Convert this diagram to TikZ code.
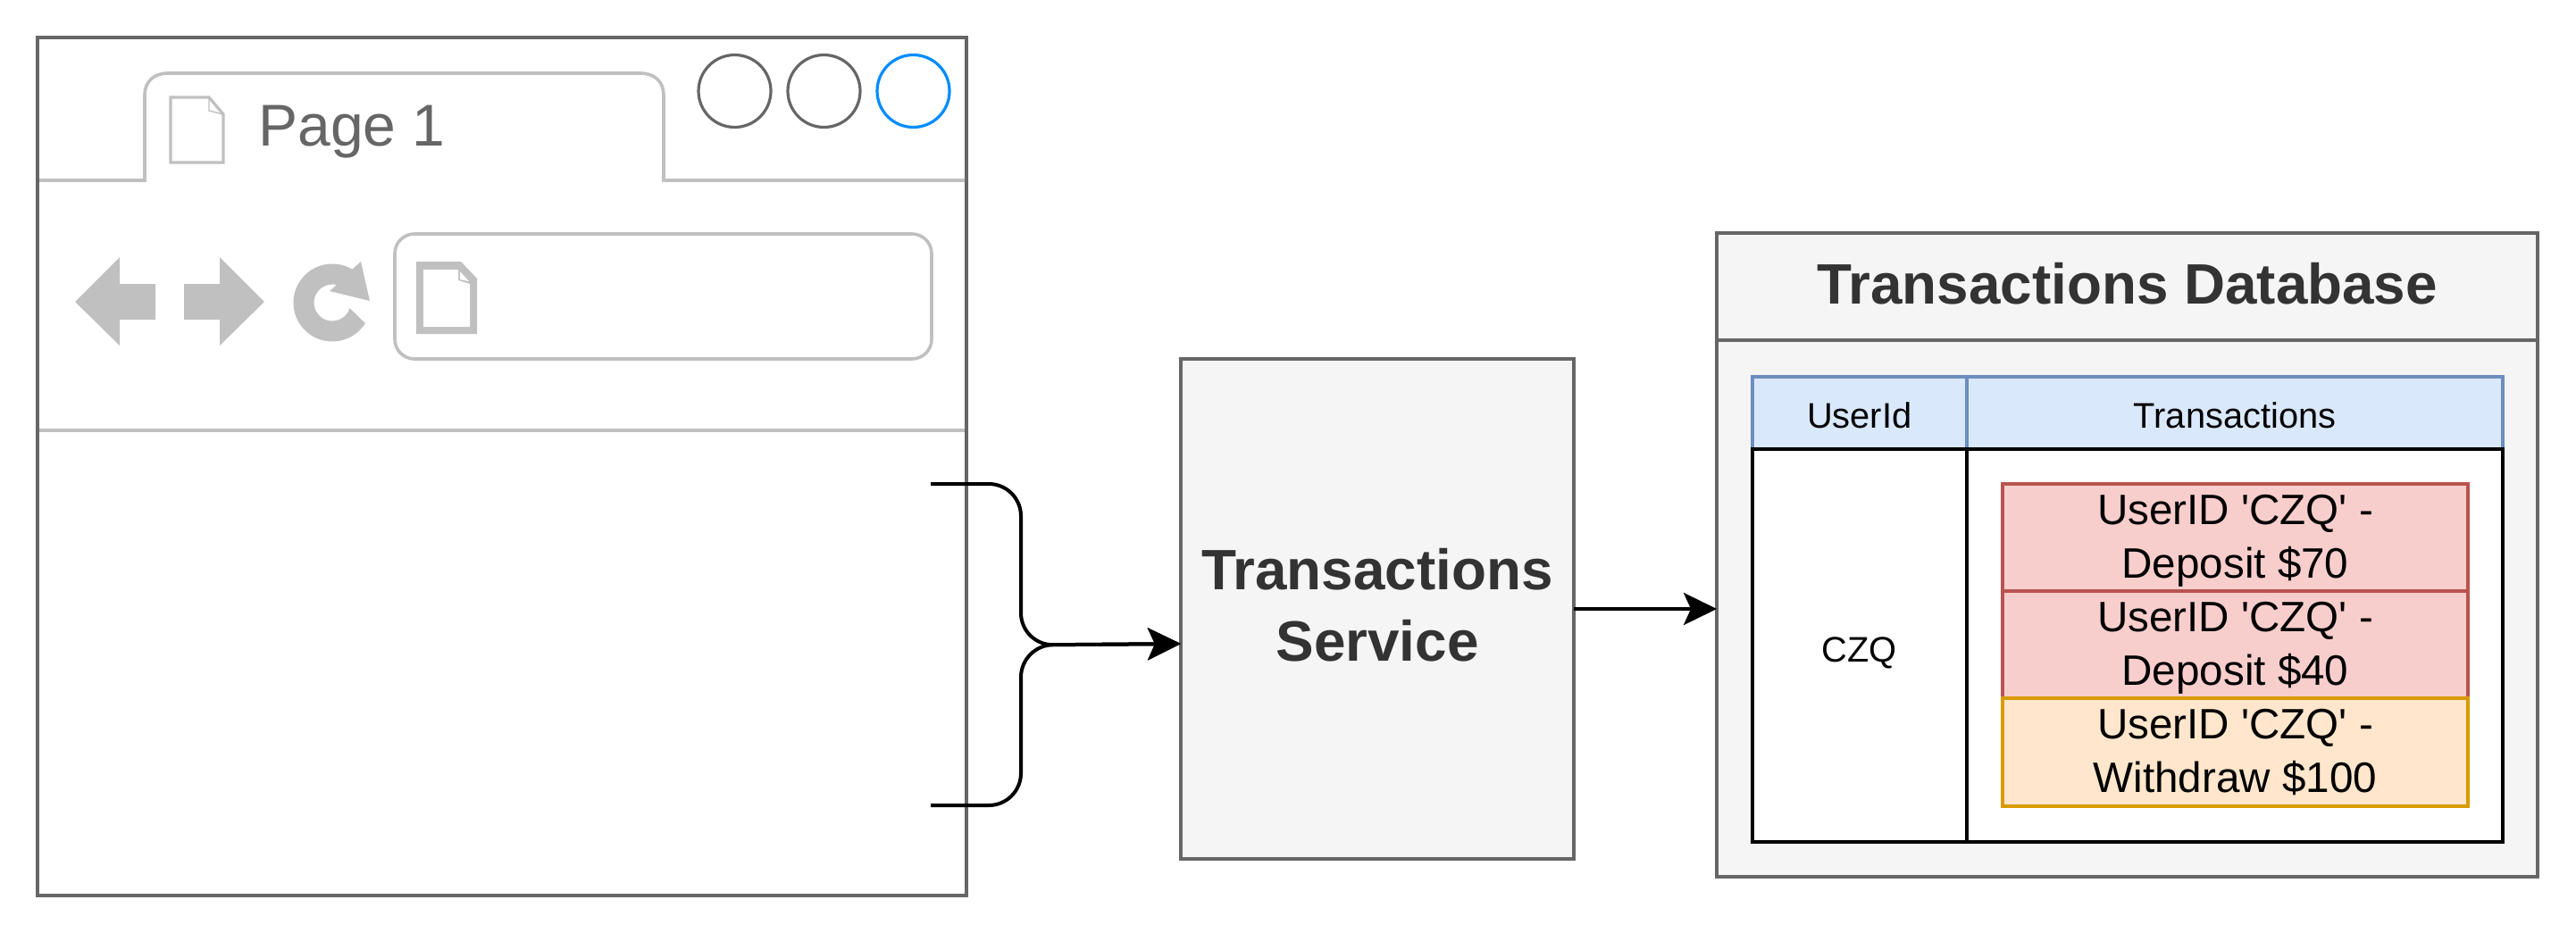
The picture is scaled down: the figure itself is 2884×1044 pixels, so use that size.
\documentclass[tikz,border=0pt]{standalone}
\usepackage{fontspec}
\setmainfont{Liberation Sans}
\usetikzlibrary{arrows.meta}
\definecolor{chrome}{HTML}{C0C0C0}
\definecolor{edge}{HTML}{666666}
\definecolor{panel}{HTML}{F5F5F5}
\definecolor{ink}{HTML}{333333}
\definecolor{winblue}{HTML}{008CFF}
\definecolor{hdrfill}{HTML}{DAE8FC}
\definecolor{hdredge}{HTML}{6C8EBF}
\definecolor{redfill}{HTML}{F8CECC}
\definecolor{rededge}{HTML}{B85450}
\definecolor{orgfill}{HTML}{FFE6CC}
\definecolor{orgedge}{HTML}{D79B00}
\newcommand\shifttext[2]{\raisebox{#1}[\height][\depth]{\begin{tabular}{@{}c@{}}#2\end{tabular}}}
\newcommand\qs{\textquotesingle}
\tikzset{
  x=0.5pt,y=-0.5pt,
  box/.style={draw,line width=2pt,outer sep=0pt,inner sep=0pt,align=center},
  panelbox/.style={box,draw=edge,fill=panel,text=ink,font=\fontsize{31.9}{40}\selectfont\bfseries},
  hdrcell/.style={box,draw=hdredge,fill=hdrfill,font=\fontsize{19.9}{24}\selectfont},
  bodycell/.style={box,draw=black,fill=white,font=\fontsize{19.9}{24}\selectfont},
  txn/.style={box,font=\fontsize{23.8}{30}\selectfont,minimum width=260.5pt,minimum height=60.5pt},
  chromeline/.style={draw=chrome,line width=1.8pt},
  dot/.style={circle,draw=edge,line width=1.6pt,minimum size=40.5pt,inner sep=0pt,outer sep=0pt,fill=white},
  conn/.style={draw=black,line width=2pt,rounded corners=18pt,-{Stealth[length=18.5pt,width=18pt,inset=4pt]}},
}
\begin{document}
\begin{tikzpicture}
\useasboundingbox (0,0) rectangle (2884,1044);
\fill[white] (0,0) rectangle (2884,1044);
% browser window
\node[box,draw=edge,fill=white,minimum width=520pt,minimum height=480.5pt] (win) at (562,522.5) {};
\draw[chromeline,line join=miter] (44,202) -- (162,202) -- (162,106) .. controls (162,92) and (172,82) .. (188,82) -- (717,82) .. controls (733,82) and (743,92) .. (743,106) -- (743,202) -- (1080,202);
\draw[chromeline] (44,482) -- (1080,482);
\node[dot] (btnA) at (822.5,102) {};
\node[dot] (btnB) at (922.5,102) {};
\node[dot,draw=winblue] (btnC) at (1022.5,102) {};
% tab page icon
\draw[draw=chrome,line width=1.6pt,fill=white,line join=miter] (191,109) -- (234,109) -- (250,128) -- (250,182) -- (191,182) -- cycle;
\draw[draw=chrome,line width=0.7pt] (234,109) -- (234,124) -- (250,128);
\node[anchor=base west,text=edge,font=\fontsize{33}{38}\selectfont,inner sep=0pt] (tabtext) at (289,163) {Page 1};
% navigation
\fill[chrome] (84,338) -- (134,288) -- (134,318) -- (174,318) -- (174,358) -- (134,358) -- (134,387) -- cycle;
\fill[chrome] (296,338) -- (246,288) -- (246,318) -- (206,318) -- (206,358) -- (246,358) -- (246,387) -- cycle;
\fill[chrome] plot[domain=32:301,samples=50,smooth] ({372+43.5*cos(\x)},{339+43.5*sin(\x)}) -- (404,293) -- (414,337) -- (369,326) -- (377,319) -- plot[domain=284:17.5,samples=40,smooth] ({372+20.5*cos(\x)},{339+20.5*sin(\x)}) -- cycle;
\draw[chromeline,rounded corners=11pt] (442,262) rectangle (1043,402);
\fill[chrome] (466,293) -- (516,293) -- (534,312) -- (534,374) -- (466,374) -- cycle;
\fill[white] (474,302) -- (513,302) -- (513,314) -- (526,318) -- (526,366) -- (474,366) -- cycle;
\fill[white] (515,304) -- (515,313) -- (525,315) -- cycle;
% service
\node[panelbox,minimum width=220pt,minimum height=280pt] (svc) at (1542,682) {\shifttext{-1.45pt}{Transactions\\Service}};
% database
\node[panelbox,minimum width=459.5pt,minimum height=60pt] (dbhead) at (2381.5,321) {\shifttext{-1.9pt}{Transactions Database}};
\node[box,draw=edge,fill=panel,minimum width=459.5pt,minimum height=300.5pt] (dbbody) at (2381.5,681.5) {};
\node[hdrcell,minimum width=120.25pt,minimum height=40.5pt] (hUser) at (2081.75,462) {\shifttext{-3.8pt}{UserId}};
\node[hdrcell,minimum width=300pt,minimum height=40.5pt] (hTxn) at (2502,462) {\shifttext{-3.8pt}{Transactions}};
\node[bodycell,minimum width=120.25pt,minimum height=220pt] (cUser) at (2081.75,722.5) {\shifttext{-4.8pt}{CZQ}};
\node[bodycell,minimum width=300pt,minimum height=220pt] (cTxn) at (2502,722.5) {};
\node[txn,draw=rededge,fill=redfill] (t1) at (2502.5,602) {\shifttext{-1.5pt}{UserID \qs CZQ\qs{} -\\Deposit \$70}};
\node[txn,draw=rededge,fill=redfill] (t2) at (2502.5,722.5) {\shifttext{-1.5pt}{UserID \qs CZQ\qs{} -\\Deposit \$40}};
\node[txn,draw=orgedge,fill=orgfill] (t3) at (2502.5,842.5) {\shifttext{-1.5pt}{UserID \qs CZQ\qs{} -\\Withdraw \$100}};
% connectors
\coordinate (fromA) at (1042,542);
\coordinate (fromB) at (1042,902);
\coordinate (bendA) at (1143,542);
\coordinate (bendB) at (1143,902);
\coordinate (midA) at (1143,722.5);
\coordinate (svcIn) at (svc.west |- 0,721);
\coordinate (dbIn) at (dbbody.west |- svc.east);
\draw[conn] (fromA) -- (bendA) -- (midA) -- (svcIn);
\draw[conn] (fromB) -- (bendB) -- (midA) -- (svcIn);
\draw[conn] (svc.east) -- (dbIn);
\end{tikzpicture}
\end{document}
